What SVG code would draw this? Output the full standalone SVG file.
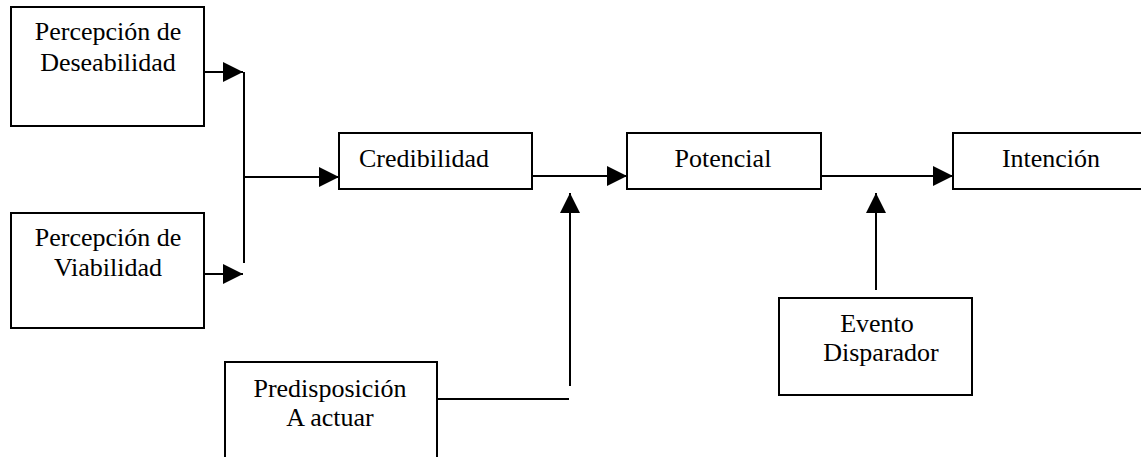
<svg xmlns="http://www.w3.org/2000/svg" width="1141" height="457" viewBox="0 0 1141 457">
<style>
.box{fill:#fff;stroke:#000;stroke-width:2}
.t{font-size:26px;fill:#000;text-anchor:middle}
.ln{fill:none;stroke:#000;stroke-width:2}
</style>
<defs>
<marker id="ah" markerUnits="userSpaceOnUse" markerWidth="20" markerHeight="20" refX="20" refY="10" orient="auto">
<path d="M0,0 L20,10 L0,20 z" fill="#000"/>
</marker>
</defs>
<rect width="1141" height="457" fill="#fff"/>
<g id="connectors">
<line class="ln" x1="204" y1="72" x2="243" y2="72" marker-end="url(#ah)"/>
<line class="ln" x1="204" y1="274" x2="243" y2="274" marker-end="url(#ah)"/>
<line class="ln" x1="244" y1="72" x2="244" y2="263"/>
<line class="ln" x1="244" y1="177" x2="339" y2="177" marker-end="url(#ah)"/>
<line class="ln" x1="532" y1="176" x2="627" y2="176" marker-end="url(#ah)"/>
<line class="ln" x1="437" y1="399" x2="569" y2="399"/>
<line class="ln" x1="570" y1="386" x2="570" y2="193" marker-end="url(#ah)"/>
<line class="ln" x1="821" y1="176" x2="953" y2="176" marker-end="url(#ah)"/>
<line class="ln" x1="876" y1="290" x2="876" y2="193" marker-end="url(#ah)"/>
</g>
<g font-family="Liberation Serif, Times New Roman, DejaVu Serif, serif">
<g id="deseabilidad">
<rect class="box" x="11" y="7" width="193" height="119"/>
<text class="t" x="108" y="40">Percepción de</text>
<text class="t" x="108" y="71">Deseabilidad</text>
</g>
<g id="viabilidad">
<rect class="box" x="11" y="213" width="193" height="115"/>
<text class="t" x="108" y="246">Percepción de</text>
<text class="t" x="108" y="276">Viabilidad</text>
</g>
<g id="credibilidad">
<rect class="box" x="339" y="133" width="193" height="56"/>
<text class="t" x="359" y="167" text-anchor="start" style="text-anchor:start">Credibilidad</text>
</g>
<g id="potencial">
<rect class="box" x="627" y="133" width="194" height="56"/>
<text class="t" x="723" y="167">Potencial</text>
</g>
<g id="intencion">
<rect class="box" x="953" y="133" width="200" height="56"/>
<text class="t" x="1051" y="167">Intención</text>
</g>
<g id="predisposicion">
<rect class="box" x="225" y="362" width="212" height="110"/>
<text class="t" x="330" y="397">Predisposición</text>
<text class="t" x="330" y="426">A actuar</text>
</g>
<g id="evento">
<rect class="box" x="779" y="298" width="193" height="97"/>
<text class="t" x="877" y="332">Evento</text>
<text class="t" x="881" y="361">Disparador</text>
</g>
</g>
</svg>
